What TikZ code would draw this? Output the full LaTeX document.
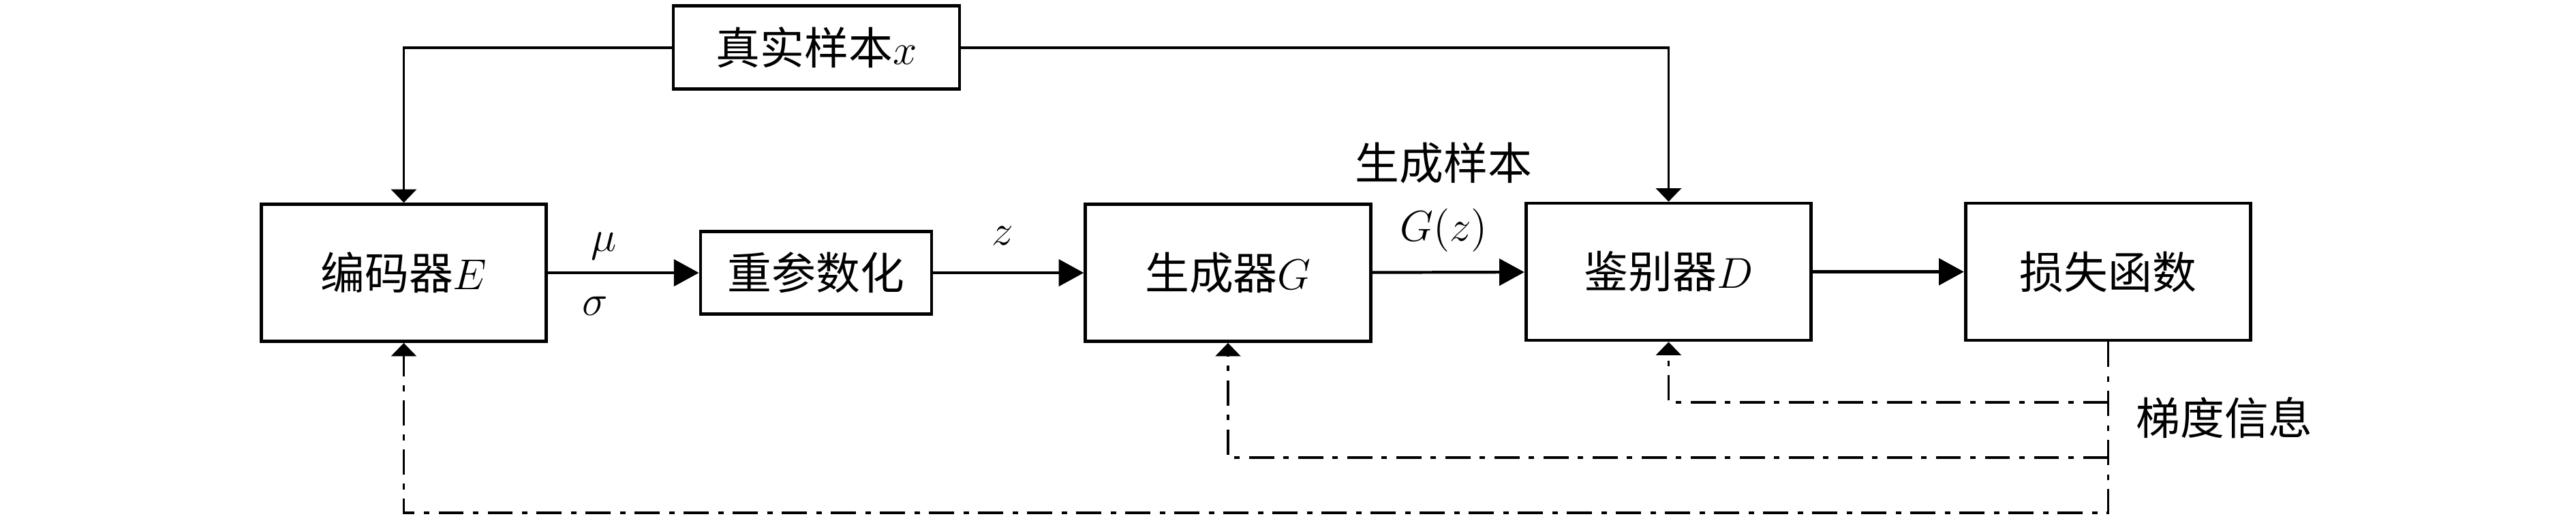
\documentclass[tikz,border=0pt]{standalone}
\usepackage{fontspec}
\newfontfamily\cjk{Noto Sans CJK SC}
\usetikzlibrary{arrows.meta}

\begin{document}
\begin{tikzpicture}[every node/.style={font=\cjk\fontsize{12.3}{17}\selectfont},
  block/.style={draw, line width=0.9pt, minimum width=2.79cm, minimum height=1.34cm, inner sep=0pt},
  smallblock/.style={draw, line width=0.9pt, minimum width=2.26cm, minimum height=0.81cm, inner sep=0pt},
  flow/.style={line width=0.8pt, -{Triangle[length=0.245cm, width=0.26cm]}},
  feed/.style={line width=0.75pt, -{Triangle[length=0.13cm, width=0.245cm]}},
  grad/.style={feed, dash pattern=on 0.245cm off 0.09cm on 0.055cm off 0.09cm}]
  \useasboundingbox (0,0) rectangle (25.2,5.087);

  \node[smallblock, minimum width=2.8cm] (real) at (7.987,4.623) {真实样本$x$};
  \node[block] (enc) at (3.95,2.42) {编码器$E$};
  \node[smallblock] (rep) at (7.983,2.42) {重参数化};
  \node[block] (gen) at (12.013,2.42) {生成器$G$};
  \node[block] (dis) at (16.323,2.43) {鉴别器$D$};
  \node[block] (loss) at (20.623,2.43) {损失函数};
  \node (gradtext) at (21.76,1.0) {梯度信息};

  \coordinate (fbD) at (20.623,1.153);
  \coordinate (fbG) at (20.623,0.613);
  \coordinate (fbE) at (20.623,0.073);

  \draw[feed] (real.west) -| (enc.north);
  \draw[feed] (real.east) -| (dis.north);

  \draw[flow] (enc) -- (rep) node[pos=0.37, above] {$\mu$} node[pos=0.31, below, yshift=-3pt] {$\sigma$};
  \draw[flow] (rep) -- (gen) node[pos=0.46, above, yshift=4pt] {$z$};
  \draw[flow] (gen) -- (dis) node[pos=0.47, above, yshift=2pt, align=center] {生成样本\\$G(z)$};
  \draw[flow] (dis) -- (loss);

  \draw[grad] (loss.south) -- (fbE) -| (enc.south);
  \draw[grad] (fbG) -| (gen.south);
  \draw[grad] (fbD) -| (dis.south);
\end{tikzpicture}
\end{document}
